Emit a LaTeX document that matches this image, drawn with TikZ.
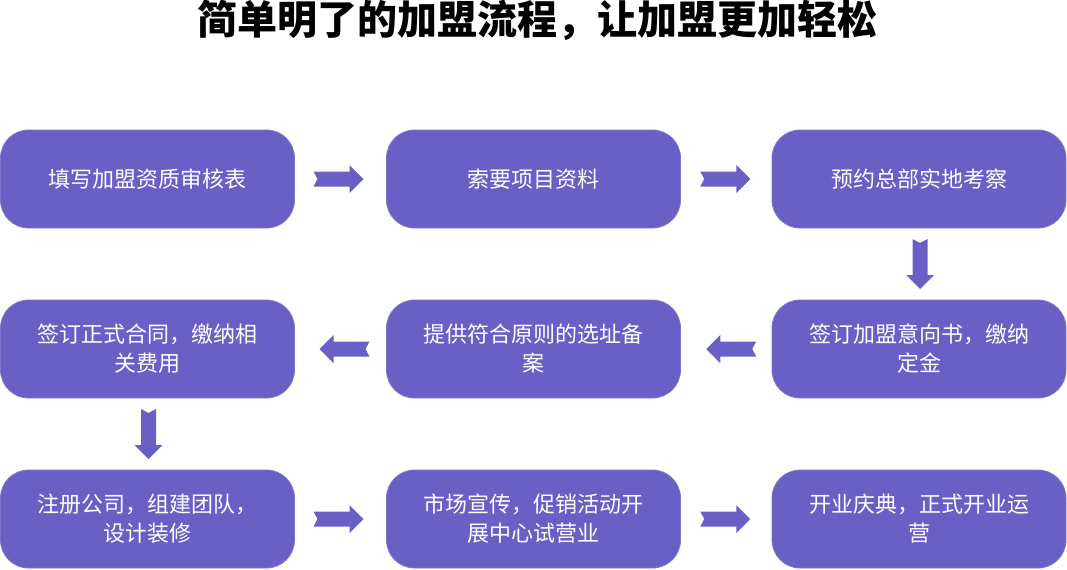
\documentclass[tikz,border=0pt]{standalone}
\usepackage{fontspec}
\setmainfont{Noto Sans CJK SC}
\usetikzlibrary{calc}
\definecolor{stepcolor}{RGB}{106,95,196}
\begin{document}
\begin{tikzpicture}[x=0.75pt,y=-0.75pt,
  stepbox/.style={draw=stepcolor!85!white, line width=0.6pt, fill=stepcolor,
    rounded corners=21pt, minimum width=220.5pt, minimum height=73.5pt,
    inner sep=0pt, text=white, align=center,
    font=\fontsize{16.5pt}{21.75pt}\selectfont},
  blockarrow/.pic={
    \fill[stepcolor] (-25,-7.5) -- (11,-7.5) -- (11,-14) -- (25,0) -- (11,14)
      -- (11,7.5) -- (-25,7.5) -- (-21,0) -- cycle;
  }]
\useasboundingbox (0,0) rectangle (1067,569);

% title
\node[font=\fontsize{30pt}{34pt}\selectfont\bfseries] (title) at (537,20)
  {简单明了的加盟流程，让加盟更加轻松};

% steps, row by row
\node[stepbox] (s1) at (147.5,179) {填写加盟资质审核表};
\node[stepbox] (s2) at (533.5,179) {索要项目资料};
\node[stepbox] (s3) at (919,179) {预约总部实地考察};
\node[stepbox] (s4) at (919,349) {签订加盟意向书，缴纳\\定金};
\node[stepbox] (s5) at (533.5,349) {提供符合原则的选址备\\案};
\node[stepbox] (s6) at (147.5,349) {签订正式合同，缴纳相\\关费用};
\node[stepbox] (s7) at (147.5,519) {注册公司，组建团队，\\设计装修};
\node[stepbox] (s8) at (533.5,519) {市场宣传，促销活动开\\展中心试营业};
\node[stepbox] (s9) at (919,519) {开业庆典，正式开业运\\营};

% block arrows between consecutive steps
\pic at ($(s1.east)!0.5!(s2.west)+(-2,0)$) {blockarrow};
\pic at ($(s2.east)!0.5!(s3.west)+(-1,0)$) {blockarrow};
\pic[rotate=-90] at ($(s3.south)!0.5!(s4.north)+(1,0)$) {blockarrow};
\pic[rotate=180] at ($(s4.west)!0.5!(s5.east)+(5,0)$) {blockarrow};
\pic[rotate=180] at ($(s5.west)!0.5!(s6.east)+(4,0)$) {blockarrow};
\pic[rotate=-90] at ($(s6.south)!0.5!(s7.north)+(1,0)$) {blockarrow};
\pic at ($(s7.east)!0.5!(s8.west)+(-2,0)$) {blockarrow};
\pic at ($(s8.east)!0.5!(s9.west)+(-1,0)$) {blockarrow};
\end{tikzpicture}
\end{document}
